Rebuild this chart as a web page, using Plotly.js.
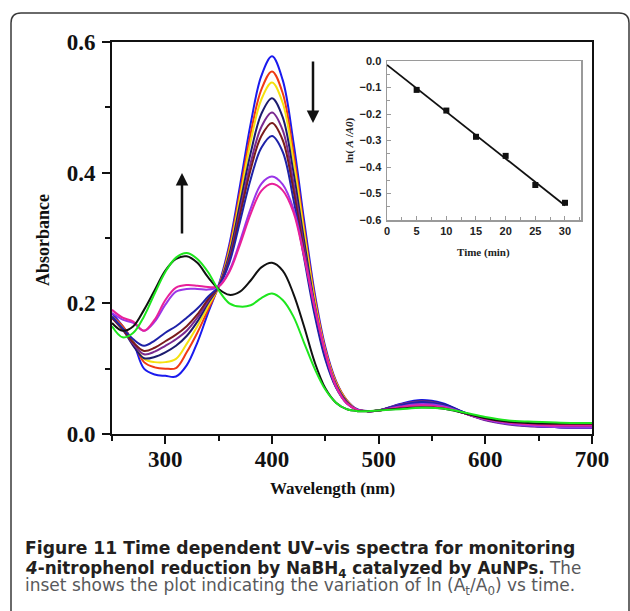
<!DOCTYPE html>
<html><head><meta charset="utf-8">
<script src="https://cdn.plot.ly/plotly-3.0.1.min.js"></script>
<style>html,body{margin:0;padding:0;background:#fff;}#chart{width:630px;height:611px;}</style>
</head><body><div id="chart"></div>
<script>
// Wavelength grid (nm)
const wavelength = [250,260,270,280,290,300,310,320,330,340,350,360,370,380,390,400,410,420,430,440,450,460,470,480,490,500,520,540,560,580,600,620,640,660,680,700];
// Absorbance spectra
const sBlue    = [.185,.165,.14,.10,.091,.089,.088,.105,.14,.185,.228,.29,.38,.475,.548,.578,.542,.448,.328,.216,.133,.081,.052,.038,.035,.036,.046,.052,.047,.033,.022,.016,.013,.011,.010,.010];
const sRed     = [.18,.165,.14,.11,.102,.10,.101,.125,.155,.19,.226,.285,.37,.46,.527,.555,.522,.432,.317,.21,.13,.08,.052,.037,.035,.036,.044,.050,.045,.032,.022,.016,.013,.012,.011,.011];
const sYellow  = [.18,.162,.14,.115,.11,.11,.115,.138,.165,.195,.226,.28,.362,.448,.512,.538,.507,.42,.31,.205,.127,.078,.051,.037,.035,.036,.044,.049,.045,.032,.022,.016,.014,.012,.012,.012];
const sNavy    = [.178,.16,.135,.116,.118,.125,.135,.15,.172,.2,.226,.275,.352,.43,.49,.514,.485,.402,.297,.198,.123,.076,.05,.037,.035,.036,.045,.051,.046,.033,.022,.016,.013,.011,.010,.010];
const sPurple  = [.178,.16,.138,.122,.126,.135,.145,.158,.178,.203,.226,.27,.342,.415,.47,.492,.465,.386,.287,.192,.12,.074,.049,.037,.035,.036,.045,.050,.045,.032,.021,.015,.012,.011,.010,.010];
const sBrown   = [.178,.16,.14,.127,.132,.142,.152,.165,.183,.206,.226,.266,.335,.405,.456,.476,.45,.374,.279,.187,.117,.072,.048,.037,.035,.036,.043,.047,.043,.032,.022,.017,.015,.014,.014,.014];
const sMedBlue = [.18,.162,.145,.135,.143,.155,.165,.178,.192,.21,.226,.262,.325,.39,.438,.456,.432,.36,.27,.182,.114,.071,.047,.037,.035,.036,.044,.049,.045,.033,.022,.016,.013,.011,.010,.010];
const sViolet  = [.185,.175,.17,.158,.172,.198,.218,.222,.222,.221,.226,.25,.295,.345,.383,.394,.382,.345,.275,.195,.125,.073,.047,.037,.035,.036,.042,.046,.043,.032,.022,.016,.013,.011,.010,.010];
const sMagenta = [.19,.178,.172,.158,.175,.205,.224,.228,.227,.225,.226,.248,.29,.337,.372,.383,.373,.34,.272,.193,.124,.073,.047,.037,.035,.036,.041,.044,.041,.032,.023,.018,.015,.013,.013,.013];
const sBlack   = [.17,.158,.165,.19,.22,.25,.268,.272,.262,.24,.222,.213,.218,.235,.255,.262,.25,.215,.165,.11,.07,.048,.038,.035,.035,.036,.039,.041,.039,.032,.024,.019,.017,.016,.016,.016];
const sGreen   = [.165,.148,.155,.18,.215,.248,.27,.277,.268,.248,.22,.2,.195,.197,.208,.215,.205,.18,.14,.1,.068,.048,.038,.035,.035,.036,.038,.040,.039,.033,.026,.021,.019,.018,.017,.017];

const seriesList = [sBlue,sRed,sYellow,sNavy,sPurple,sBrown,sMedBlue,sViolet,sMagenta,sBlack,sGreen];
const seriesColors = ['#1a1aee','#f03a14','#f5e10f','#1c1c6e','#7a2a90','#7a1c1c','#1e22a8','#9a35e8','#e8209a','#111111','#1ee61e'];

// Inset: ln(At/A0) vs time
const timeMin = [5,10,15,20,25,30];
const lnRatio = [-0.109,-0.187,-0.286,-0.358,-0.468,-0.535];
const fitTime = [0,30];
const fitLn = [-0.015,-0.545];

const traces = seriesList.map((s,i)=>({
  x: wavelength, y: s, type:'scatter', mode:'lines',
  line:{color:seriesColors[i], width:2, shape:'spline', smoothing:1},
  xaxis:'x', yaxis:'y', hoverinfo:'skip'
}));
traces.push({x:fitTime, y:fitLn, type:'scatter', mode:'lines', line:{color:'#111', width:1.8}, xaxis:'x2', yaxis:'y2'});
traces.push({x:timeMin, y:lnRatio, type:'scatter', mode:'markers', marker:{color:'#111', size:6, symbol:'square'}, xaxis:'x2', yaxis:'y2'});

// pixel helpers -> paper coords (plot area: x 112..592, y 42..434)
const L=112, R=592, T=42, B=434;
const px = v => (v-L)/(R-L);
const py = v => (B-v)/(B-T);

const serifBold = {family:'Liberation Serif', size:23, color:'#111', weight:'bold'};
const capBold = '#231f20', capReg = '#58595b';
const capFont = 'DejaVu Sans';

const rx = 10/(R-L), ry = 10/(B-T);
const fx0=px(11), fx1=px(629), fyt=py(13), fyb=py(625);
const framePath = `M ${fx0},${fyb} L ${fx0},${fyt-ry} Q ${fx0},${fyt} ${fx0+rx},${fyt} L ${fx1-rx},${fyt} Q ${fx1},${fyt} ${fx1},${fyt-ry} L ${fx1},${fyb}`;

const layout = {
  width:630, height:611,
  margin:{l:L, r:630-R, t:T, b:611-B},
  paper_bgcolor:'#fff', plot_bgcolor:'#fff',
  showlegend:false,
  xaxis:{domain:[0,1], range:[250,700], showgrid:false, zeroline:false,
    showline:true, linecolor:'#111', linewidth:2, mirror:true,
    ticks:'outside', ticklen:8, tickwidth:2, tickcolor:'#111',
    tick0:300, dtick:100, tickfont:serifBold, ticklabelstandoff:-5,
    minor:{dtick:50, tick0:250, ticks:'outside', ticklen:5, tickwidth:2, tickcolor:'#111', showgrid:false}},
  yaxis:{domain:[0,1], range:[0,0.6], showgrid:false, zeroline:false,
    showline:true, linecolor:'#111', linewidth:2, mirror:true,
    ticks:'outside', ticklen:8, tickwidth:2, tickcolor:'#111',
    tick0:0, dtick:0.2, tickformat:'.1f', tickfont:serifBold, ticklabelstandoff:2,
    minor:{dtick:0.1, ticks:'outside', ticklen:5, tickwidth:2, tickcolor:'#111', showgrid:false}},
  xaxis2:{domain:[px(387), px(581)], anchor:'y2', range:[0,32.7], showgrid:false, zeroline:false,
    showline:true, linecolor:'#9a9a9a', linewidth:1.5, mirror:true,
    ticks:'inside', ticklen:4, tickcolor:'#9a9a9a', tick0:0, dtick:5,
    tickfont:{family:'Liberation Sans', size:11, color:'#222', weight:'bold'}, ticklabelstandoff:0,
    minor:{dtick:2.5, ticks:'inside', ticklen:3, tickcolor:'#9a9a9a', showgrid:false}},
  yaxis2:{domain:[py(220), py(61)], anchor:'x2', range:[-0.6,0], showgrid:false, zeroline:false,
    showline:true, linecolor:'#9a9a9a', linewidth:1.5, mirror:true,
    ticks:'inside', ticklen:4, tickcolor:'#9a9a9a', tick0:0, dtick:0.1, tickformat:'.1f',
    tickfont:{family:'Liberation Sans', size:11, color:'#222', weight:'bold'}, ticklabelstandoff:2,
    minor:{dtick:0.05, ticks:'inside', ticklen:3, tickcolor:'#9a9a9a', showgrid:false}},
  shapes:[{type:'path', xref:'paper', yref:'paper', path:framePath, line:{color:'#3a3a3a', width:1.5}, layer:'above'}],
  annotations:[
    {xref:'paper', yref:'paper', x:px(43), y:py(240), text:'Absorbance', textangle:-90, showarrow:false,
     font:{family:'Liberation Serif', size:18, color:'#111', weight:'bold'}, xanchor:'center', yanchor:'middle'},
    {xref:'paper', yref:'paper', x:px(332), y:py(488), text:'Wavelength (nm)', showarrow:false,
     font:{family:'Liberation Serif', size:17, color:'#111', weight:'bold'}, xanchor:'center', yanchor:'middle'},
    {xref:'paper', yref:'paper', x:px(483), y:py(252), text:'Time (min)', showarrow:false,
     font:{family:'Liberation Serif', size:11, color:'#222', weight:'bold'}, xanchor:'center', yanchor:'middle'},
    {xref:'paper', yref:'paper', x:px(349), y:py(140), text:'ln( <i>A</i> /<i>A0</i>)', textangle:-90, showarrow:false,
     font:{family:'Liberation Serif', size:11, color:'#222', weight:'bold'}, xanchor:'center', yanchor:'middle'},
    // arrows
    {xref:'x', yref:'y', x:250+(182-L)*450/(R-L), y:(B-173)/(B-T)*0.6, ax:0, ay:62, text:'', showarrow:true,
     arrowhead:2, arrowsize:1, arrowwidth:2.5, arrowcolor:'#111', standoff:0},
    {xref:'x', yref:'y', x:250+(313-L)*450/(R-L), y:(B-123)/(B-T)*0.6, ax:0, ay:-63, text:'', showarrow:true,
     arrowhead:2, arrowsize:1, arrowwidth:2.5, arrowcolor:'#111', standoff:0},
    // caption
    {xref:'paper', yref:'paper', x:px(23), y:py(536), xanchor:'left', yanchor:'top', showarrow:false, align:'left',
     text:'<b>Figure 11 Time dependent UV–vis spectra for monitoring</b>',
     font:{family:capFont, size:17.2, color:capBold}},
    {xref:'paper', yref:'paper', x:px(23), y:py(555.5), xanchor:'left', yanchor:'top', showarrow:false, align:'left',
     text:'<b><i>4</i>-nitrophenol reduction by NaBH<sub>4</sub> catalyzed by AuNPs.</b><span style="color:'+capReg+'"> The</span>',
     font:{family:capFont, size:16.8, color:capBold}},
    {xref:'paper', yref:'paper', x:px(23), y:py(573), xanchor:'left', yanchor:'top', showarrow:false, align:'left',
     text:'inset shows the plot indicating the variation of ln (A<sub>t</sub>/A<sub>0</sub>) vs time.',
     font:{family:capFont, size:17, color:capReg}}
  ]
};

Plotly.newPlot('chart', traces, layout, {displayModeBar:false, staticPlot:true});
</script>
</body></html>
